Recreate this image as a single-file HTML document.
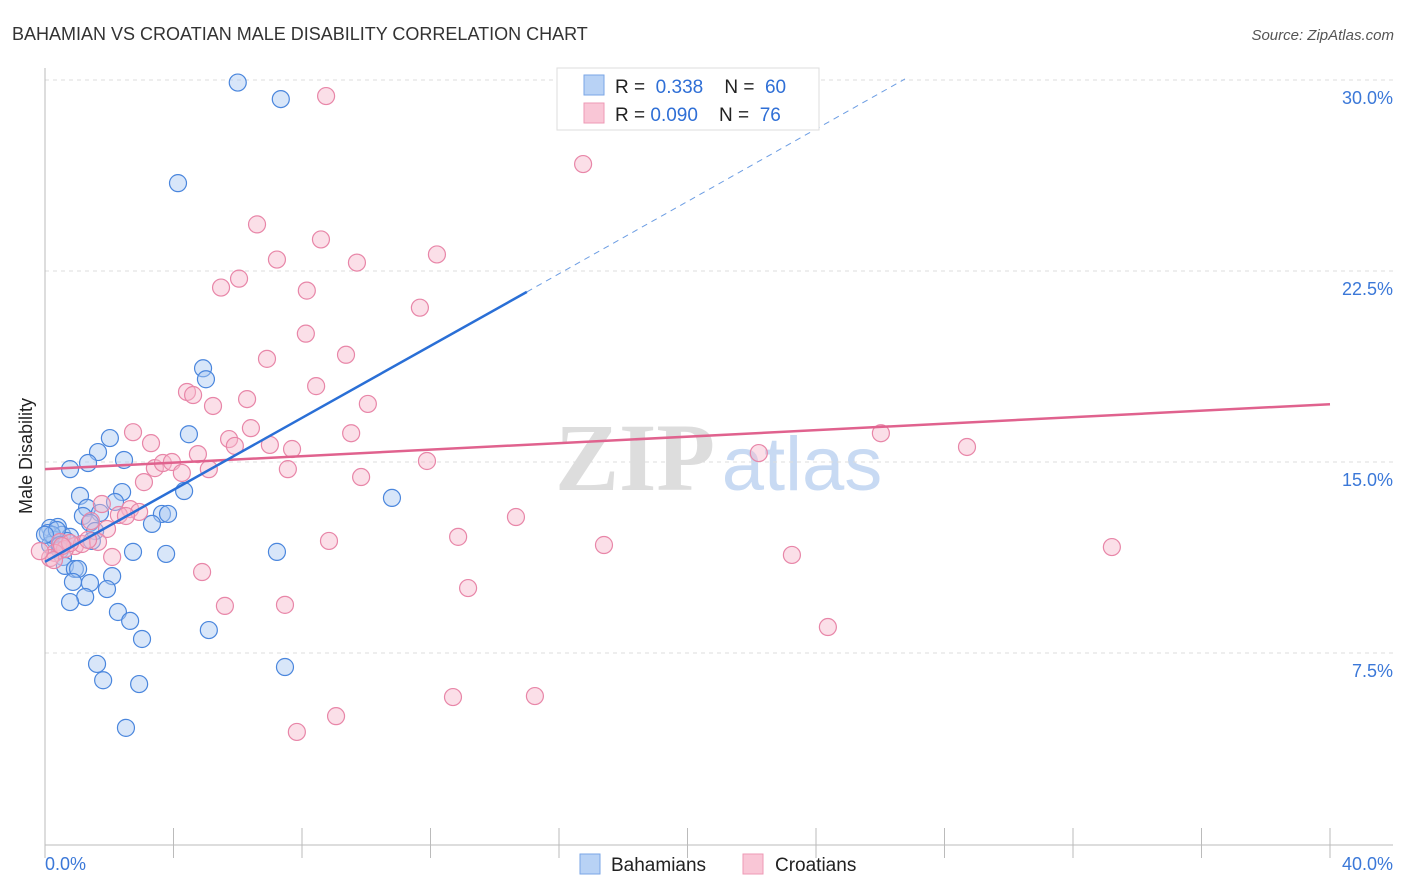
<!DOCTYPE html>
<html><head><meta charset="utf-8"><style>
body{margin:0;background:#fff;font-family:"Liberation Sans",sans-serif;}
svg{display:block}
</style></head><body>
<svg id="chart" width="1406" height="892">
<text x="12" y="40" font-size="18" fill="#333">BAHAMIAN VS CROATIAN MALE DISABILITY CORRELATION CHART</text>
<text x="1394" y="40" font-size="15" fill="#555" text-anchor="end" font-style="italic">Source: ZipAtlas.com</text>
<text x="32" y="456" font-size="18" fill="#222" text-anchor="middle" transform="rotate(-90 32 456)">Male Disability</text>
<g>
<text x="635" y="490" font-size="96" fill="#ddd" text-anchor="middle" font-family="Liberation Serif" font-weight="bold">ZIP</text>
<text x="802" y="490" font-size="76" fill="#c8daf3" text-anchor="middle">atlas</text>
</g>
<g id="grid"></g><g id="axes"></g><g id="pts"></g><g id="trend"></g>
<g>
<rect x="557" y="68" width="262" height="62" fill="#fff" stroke="#ddd"/>
<rect x="584" y="75" width="20" height="20" fill="#b8d2f5" stroke="#7aa6e6"/>
<rect x="584" y="103" width="20" height="20" fill="#f9c6d6" stroke="#ee99b5"/>
<text x="615" y="93" font-size="19" fill="#222">R = <tspan fill="#2f6fd6">&#160;0.338</tspan>&#160;&#160;&#160;&#160;N = <tspan fill="#2f6fd6">&#160;60</tspan></text>
<text x="615" y="121" font-size="19" fill="#222">R = <tspan fill="#2f6fd6">0.090</tspan>&#160;&#160;&#160;&#160;N = <tspan fill="#2f6fd6">&#160;76</tspan></text>
</g>
<g>
<rect x="580" y="854" width="20" height="20" fill="#b8d2f5" stroke="#7aa6e6"/>
<text x="611" y="871" font-size="19" fill="#222">Bahamians</text>
<rect x="743" y="854" width="20" height="20" fill="#f9c6d6" stroke="#ee99b5"/>
<text x="775" y="871" font-size="19" fill="#222">Croatians</text>
</g>
</svg>
<script>
const yTicks=[7.5,15,22.5,30];
const yTickLabels=["7.5%","15.0%","22.5%","30.0%"];
const xTickCount=10;
const xLabels=["0.0%","40.0%"];
const bahamX=[6.0,7.34,4.14,4.92,5.01,4.48,2.02,1.65,2.46,1.34,0.78,4.33,2.4,1.09,2.18,1.31,1.71,1.18,3.64,3.83,3.33,1.4,1.56,0.4,0.16,0.09,0.53,0.78,0.31,0.68,1.46,0.16,0.47,2.74,3.77,7.22,0.56,0.62,0.93,1.03,2.09,0.87,1.4,1.93,1.25,0.78,2.27,2.65,5.1,3.02,1.62,7.47,1.81,2.93,2.52,10.8,0.22,0.37,0.0,0.47];
const bahamY=[29.9,29.25,25.95,18.68,18.25,16.09,15.94,15.39,15.08,14.96,14.72,13.86,13.82,13.67,13.43,13.2,13.0,12.88,12.96,12.96,12.57,12.61,12.29,12.45,12.41,12.21,12.14,12.06,11.94,11.9,11.9,11.74,11.54,11.47,11.39,11.47,11.27,10.92,10.8,10.8,10.52,10.29,10.25,10.01,9.7,9.5,9.11,8.76,8.4,8.05,7.07,6.95,6.43,6.28,4.56,13.59,12.14,12.33,12.14,11.74];
const croatX=[8.75,16.75,6.6,8.59,12.2,7.22,9.71,6.04,5.48,8.15,11.67,8.12,9.37,6.91,4.42,4.61,8.44,6.29,5.23,10.05,2.74,6.41,3.3,5.73,5.91,7.0,9.53,7.69,4.76,26.02,28.7,22.22,11.89,3.42,3.67,3.95,4.26,5.1,7.56,9.84,3.08,1.77,2.65,2.3,2.93,2.52,1.93,1.43,14.66,12.86,8.84,17.4,33.21,23.25,2.09,0.47,0.93,0.62,0.31,0.16,1.15,4.89,13.17,5.6,7.47,24.37,12.7,15.25,9.06,7.84,0.78,1.65,0.28,1.34,0.53,-0.16];
const croatY=[29.37,26.7,24.33,23.74,23.15,22.95,22.83,22.2,21.85,21.73,21.06,20.04,19.21,19.05,17.75,17.63,17.98,17.47,17.2,17.28,16.17,16.33,15.74,15.9,15.63,15.67,16.13,15.51,15.31,16.13,15.59,15.35,15.04,14.76,14.96,15.0,14.57,14.72,14.72,14.41,14.21,13.35,13.15,12.92,13.04,12.88,12.37,12.68,12.84,12.06,11.9,11.74,11.66,11.35,11.27,11.86,11.7,11.58,11.43,11.23,11.78,10.68,10.05,9.35,9.39,8.52,5.77,5.81,5.02,4.4,11.82,11.86,11.15,11.94,11.7,11.5];
const bahamTrend=[[0,11.08],[15.0,21.68]];
const bahamDash=[[15.0,21.68],[26.77,30.04]];
const croatTrend=[[0,14.72],[40,17.27]];
const NS="http://www.w3.org/2000/svg";
const X0=45,X1=1330,Y0=844,PY=191/7.5;
const sx=v=>X0+(v/40)*(X1-X0), sy=v=>Y0-v*PY;
function mk(tag,attrs,parent){const e=document.createElementNS(NS,tag);for(const k in attrs)e.setAttribute(k,attrs[k]);parent.appendChild(e);return e;}
const grid=document.getElementById('grid'),axes=document.getElementById('axes'),pts=document.getElementById('pts'),tr=document.getElementById('trend');
yTicks.forEach((t,i)=>{
 const l=mk('line',{x1:X0,x2:1393,y1:sy(t),y2:sy(t),stroke:'#ddd','stroke-dasharray':'4,4'},grid);
 
 
 const tx=mk('text',{x:1393,y:sy(t)+24,'font-size':18,fill:'#3b78d8','text-anchor':'end'},grid);
 tx.textContent=yTickLabels[i];
 
 
});
let a=mk('line',{x1:X0,x2:X0,y1:68,y2:845,stroke:'#bbb'},axes);


a=mk('line',{x1:X0,x2:1393,y1:845,y2:845,stroke:'#bbb'},axes);


for(let i=0;i<=xTickCount;i++){
 const t=mk('line',{x1:sx(i*4),x2:sx(i*4),y1:828,y2:858,stroke:'#bbb'},axes);
 
 
}
let xl=mk('text',{x:45,y:870,'font-size':18,fill:'#3b78d8'},axes);xl.textContent=xLabels[0];


xl=mk('text',{x:1393,y:870,'font-size':18,fill:'#3b78d8','text-anchor':'end'},axes);xl.textContent=xLabels[1];


function dots(xs,ys,fill,stroke,name){xs.forEach((v,i)=>{
 const c=mk('circle',{cx:sx(v),cy:sy(ys[i]),r:8.5,fill:fill,'fill-opacity':0.45,stroke:stroke,'stroke-width':1.2},pts);
 
 
});}
dots(bahamX,bahamY,'#a9c8f1','#4a86dd','bahamian-point');
dots(croatX,croatY,'#f7b9cd','#e886a8','croatian-point');
function line(p,color,dash,name){const l=mk('line',{x1:sx(p[0][0]),y1:sy(p[0][1]),x2:sx(p[1][0]),y2:sy(p[1][1]),stroke:color,'stroke-width':dash?1:2.5},tr);
 if(dash)l.setAttribute('stroke-dasharray','6,5');
 
 }
line(croatTrend,'#e0628e',false,'croatian-trendline');
line(bahamTrend,'#2a6fd6',false,'bahamian-trendline');
line(bahamDash,'#6c9de3',true,'bahamian-trendline-extension');
</script>
</body></html>
